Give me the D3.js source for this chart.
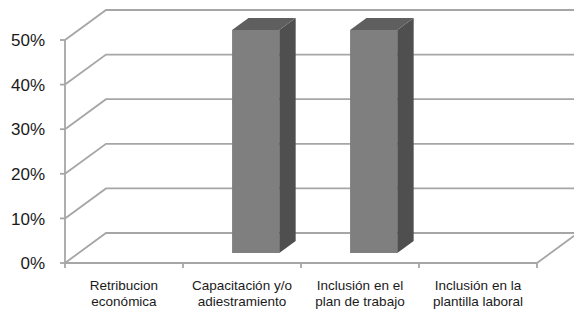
<!DOCTYPE html>
<html>
<head>
<meta charset="utf-8">
<script src="https://cdn.jsdelivr.net/npm/d3@7"></script>
<style>
body { margin: 0; background: #fff; }
svg { display: block; }
</style>
</head>
<body>
<div id="chart"></div>
<script>
var categories = ["Retribucion económica", "Capacitación y/o adiestramiento", "Inclusión en el plan de trabajo", "Inclusión en la plantilla laboral"];
var categoryLines = [["Retribucion", "económica"], ["Capacitación y/o", "adiestramiento"], ["Inclusión en el", "plan de trabajo"], ["Inclusión en la", "plantilla laboral"]];
var values = [0, 0.5, 0.5, 0];
var tickValues = [0, 0.1, 0.2, 0.3, 0.4, 0.5];

var width = 574, height = 313;
var depthX = 41, depthY = 30;
var gridColor = "#a6a6a6";

var svg = d3.select("#chart").append("svg")
    .attr("width", width)
    .attr("height", height);

var x = d3.scaleBand()
    .domain(categories)
    .range([65, 537]);
var y = d3.scaleLinear()
    .domain([0, 0.5])
    .range([263, 40]);

// point on the floor/wall at depth d (0 = front, 1 = back)
function project(px, py, d) {
    return [px + d * depthX, py - d * depthY];
}

var grid = svg.append("g")
    .attr("fill", "none")
    .attr("stroke", gridColor)
    .attr("stroke-width", 1.8);

tickValues.forEach(function (t) {
    var front = [x.range()[0], y(t)];
    var back = project(front[0], front[1], 1);
    var backRight = project(x.range()[1], y(t), 1);
    grid.append("path")
        .attr("d", d3.line()([front, back, backRight]));
});
// floor right edge
grid.append("path")
    .attr("d", d3.line()([[x.range()[1], y(0)], project(x.range()[1], y(0), 1)]));

// front axes
var axes = svg.append("g")
    .attr("stroke", gridColor)
    .attr("stroke-width", 1.8);
axes.append("line")
    .attr("x1", x.range()[0]).attr("x2", x.range()[0])
    .attr("y1", y(0.5)).attr("y2", y(0));
axes.append("line")
    .attr("x1", x.range()[0]).attr("x2", x.range()[1])
    .attr("y1", y(0)).attr("y2", y(0));
tickValues.forEach(function (t) {
    axes.append("line")
        .attr("x1", x.range()[0] - 5).attr("x2", x.range()[0])
        .attr("y1", y(t)).attr("y2", y(t));
});
var bounds = categories.map(function (c) { return x(c); }).concat([x.range()[1]]);
bounds.forEach(function (b) {
    axes.append("line")
        .attr("x1", b).attr("x2", b)
        .attr("y1", y(0)).attr("y2", y(0) + 5);
});

// bars
var barRatio = 0.4, d0 = 1 / 3, d1 = d0 + 0.4;
var bars = svg.append("g");
categories.forEach(function (c, i) {
    var v = values[i];
    if (v <= 0) return;
    var bw = x.bandwidth() * barRatio;
    var left = x(c) + (x.bandwidth() - bw) / 2;
    var right = left + bw;
    var top = y(v), bottom = y(0);
    var fl = project(left, top, d0), fr = project(right, top, d0);
    var flb = project(left, bottom, d0), frb = project(right, bottom, d0);
    var bl = project(left, top, d1), br = project(right, top, d1);
    var brb = project(right, bottom, d1);
    bars.append("path")
        .attr("d", d3.line()([fl, fr, frb, flb]) + "Z")
        .attr("fill", "#7f7f7f");
    bars.append("path")
        .attr("d", d3.line()([fr, br, brb, frb]) + "Z")
        .attr("fill", "#4f4f4f");
    bars.append("path")
        .attr("d", d3.line()([fl, bl, br, fr]) + "Z")
        .attr("fill", "#5f5f5f");
});

// y labels
svg.append("g")
    .selectAll("text")
    .data(tickValues)
    .join("text")
    .attr("x", 45)
    .attr("y", function (d) { return y(d); })
    .attr("dy", "0.36em")
    .attr("text-anchor", "end")
    .style("font-family", "'Liberation Sans', Arial, sans-serif")
    .style("font-size", "17px")
    .attr("fill", "#1a1a1a")
    .text(function (d) { return d3.format(".0%")(d); });

// category labels
var labels = svg.append("g")
    .style("font-family", "'Liberation Sans', Arial, sans-serif")
    .style("font-size", "13.5px")
    .attr("fill", "#1a1a1a")
    .attr("text-anchor", "middle");
categories.forEach(function (c, i) {
    var t = labels.append("text")
        .attr("x", x(c) + x.bandwidth() / 2)
        .attr("y", 290);
    categoryLines[i].forEach(function (line, k) {
        t.append("tspan")
            .attr("x", x(c) + x.bandwidth() / 2)
            .attr("dy", k == 0 ? 0 : 15.5)
            .text(line);
    });
});
</script>
</body>
</html>
